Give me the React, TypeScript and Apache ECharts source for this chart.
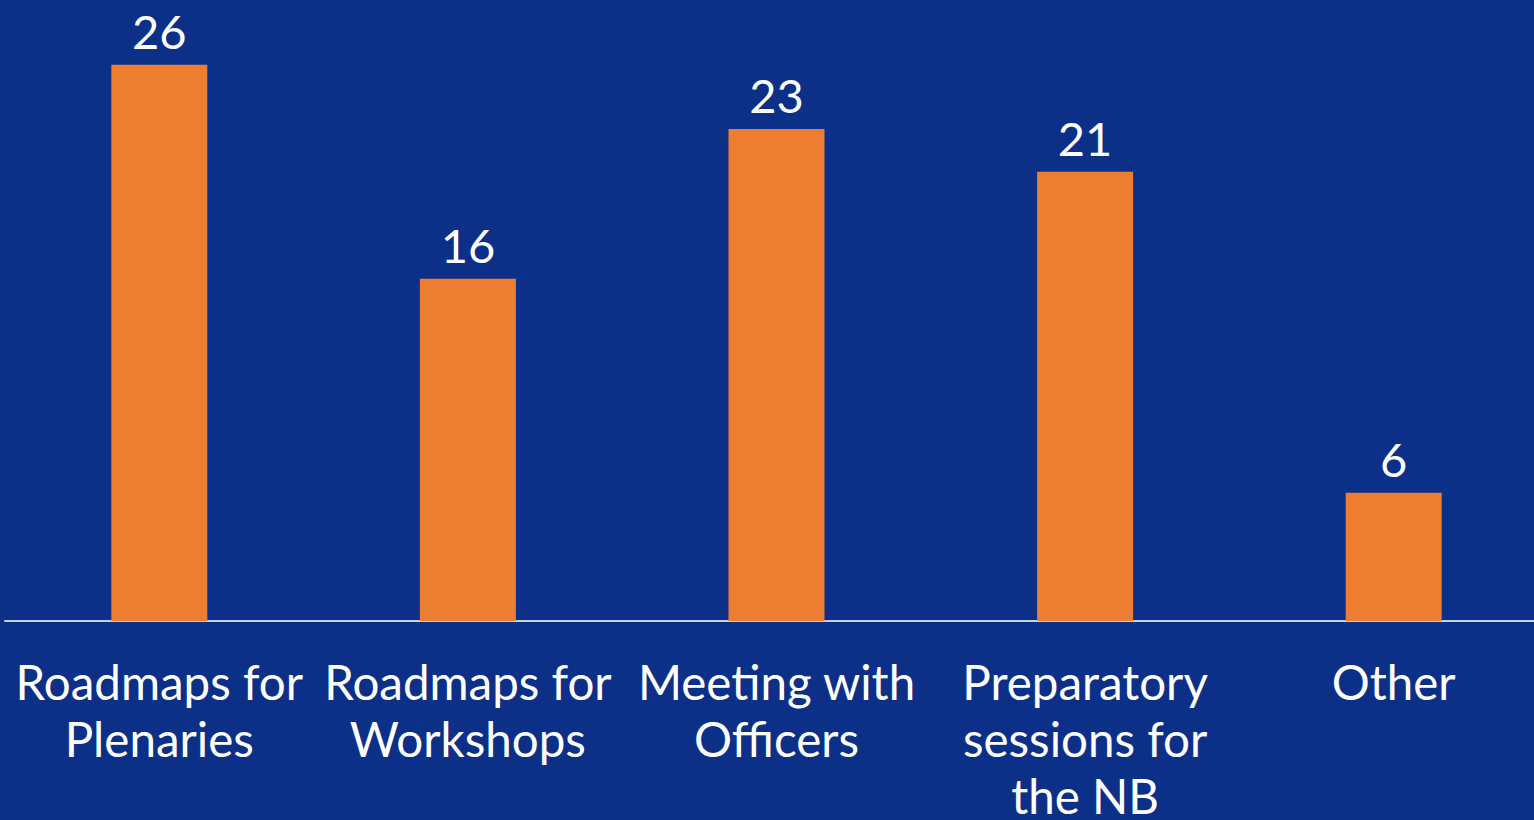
import React, { useEffect, useRef } from "react";
import * as echarts from "echarts";

const categories = [
  "Roadmaps for\nPlenaries",
  "Roadmaps for\nWorkshops",
  "Meeting with\nOfficers",
  "Preparatory\nsessions for\nthe NB",
  "Other",
];
const values = [26, 16, 23, 21, 6];

export default function App() {
  const ref = useRef<HTMLDivElement>(null);
  useEffect(() => {
    if (!ref.current) return;
    const chart = echarts.init(ref.current, undefined, { renderer: "svg" });
    chart.setOption({
      animation: false,
      backgroundColor: "#0c3088",
      grid: {
        left: 5,
        right: -14,
        top: 22,
        bottom: 199,
        containLabel: false,
        outerBoundsMode: "none",
      },
      xAxis: {
        type: "category",
        data: categories,
        axisLine: { show: true, lineStyle: { color: "#c9cde0", width: 2 } },
        axisTick: { show: false },
        axisLabel: {
          interval: 0,
          color: "#ffffff",
          fontFamily: "Lato",
          fontSize: 47.5,
          lineHeight: 57,
          margin: 32,
        },
      },
      yAxis: {
        type: "value",
        min: 0,
        max: 28,
        show: false,
        splitLine: { show: false },
      },
      series: [
        {
          type: "bar",
          data: values,
          barWidth: 96,
          itemStyle: { color: "#ed7d31" },
          label: {
            show: true,
            position: "top",
            distance: 10,
            color: "#ffffff",
            fontFamily: "Lato",
            fontSize: 47,
          },
        },
      ],
    });
    return () => chart.dispose();
  }, []);
  return (
    <div
      ref={ref}
      style={{ position: "absolute", left: 0, top: 0, width: 1534, height: 820 }}
    />
  );
}
